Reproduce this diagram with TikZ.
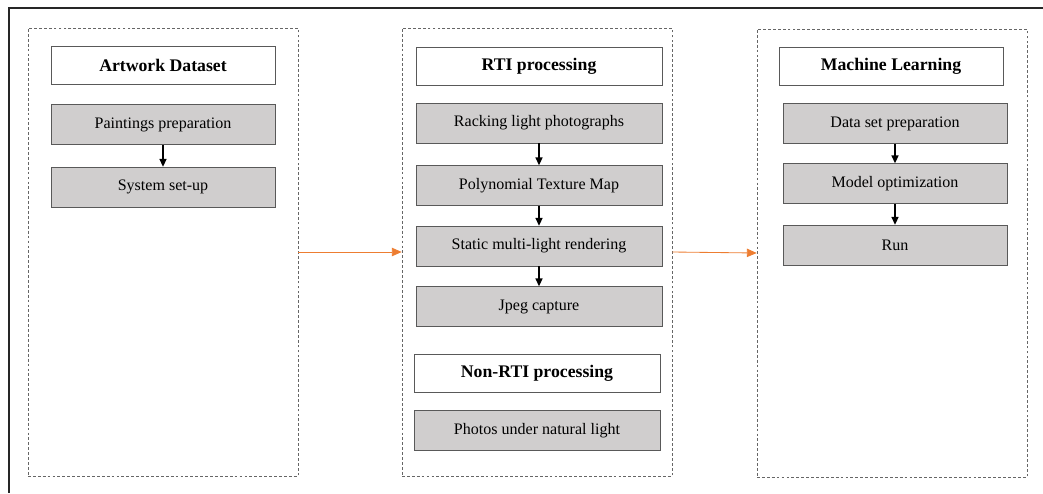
\documentclass[tikz,border=0pt]{standalone}
\usepackage{fontspec}
\setmainfont{Liberation Serif}
\usepackage{xcolor}
\definecolor{colStep}{HTML}{D0CECE}
\definecolor{colEdge}{HTML}{595959}
\definecolor{colFlow}{HTML}{ED7D31}
\usepackage{tikz}
\usetikzlibrary{arrows.meta, positioning}
\tikzset{
	headbox/.style={draw=colEdge, fill=white, minimum height=0.95cm, minimum width=#1,
		font=\fontsize{12.6}{14}\selectfont\bfseries},
	stepbox/.style={draw=colEdge, fill=colStep, minimum height=1.0cm, minimum width=#1,
		font=\fontsize{11.4}{13}\selectfont},
	groupbox/.style={draw=black!60, dash pattern=on 2pt off 1.5pt, minimum width=6.75cm, minimum height=11.2cm},
	steparr/.style={-{Triangle[length=5.5pt, width=5pt]}, line width=0.9pt},
	flowarr/.style={-{Triangle[length=7pt, width=6pt]}, colFlow, line width=0.6pt},
}

\begin{document}
\begin{tikzpicture}[x=0.025cm, y=-0.025cm]
		\useasboundingbox (0,0) rectangle (1043,493);
		\draw[black!85, line width=0.9pt] (1043,8) -- (9,8) -- (9,493);

		% three stages
		\node[groupbox] (grpArt) at (163,252) {};
		\node[groupbox] (grpRti) at (537,252) {};
		\node[groupbox] (grpMl)  at (892,253) {};

		% artwork dataset
		\node[headbox=5.6cm] (artHead) at (163,65.5) {Artwork Dataset};
		\node[stepbox=5.6cm] (prep)    at (163,124.5) {Paintings preparation};
		\node[stepbox=5.6cm] (setup)   at (163,187)   {System set-up};

		% RTI / non-RTI processing
		\node[headbox=6.15cm] (rtiHead) at (539,66)    {RTI processing};
		\node[stepbox=6.15cm] (rack)    at (539,123)   {Racking light photographs};
		\node[stepbox=6.15cm] (ptm)     at (539,185.5) {Polynomial Texture Map};
		\node[stepbox=6.15cm] (render)  at (539,246)   {Static multi-light rendering};
		\node[stepbox=6.15cm] (jpeg)    at (539,306.5) {Jpeg capture};
		\node[headbox=6.15cm] (nonHead) at (537,373)   {Non-RTI processing};
		\node[stepbox=6.15cm] (natural) at (537,430.5) {Photos under natural light};

		% machine learning
		\node[headbox=5.6cm] (mlHead) at (891,66)    {Machine Learning};
		\node[stepbox=5.6cm] (data)   at (895,123.5) {Data set preparation};
		\node[stepbox=5.6cm] (optim)  at (895,183.5) {Model optimization};
		\node[stepbox=5.6cm] (run)    at (895,245)   {Run};

		\foreach \a/\b in {prep/setup, rack/ptm, ptm/render, render/jpeg, data/optim, optim/run}
			\draw[steparr] (\a) -- (\b);

		\draw[flowarr] (grpArt.east) -- (grpRti.west);
		\draw[flowarr] (grpRti.east) -- (grpMl.west);
	\end{tikzpicture}
\end{document}
